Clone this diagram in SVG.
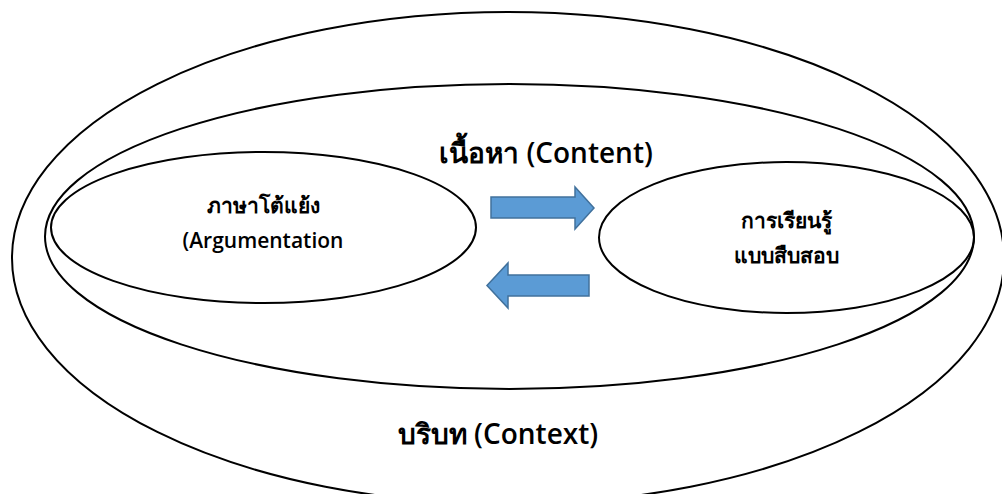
<svg xmlns="http://www.w3.org/2000/svg" width="1002" height="494" viewBox="0 0 1002 494">
<style>
.ring{fill:none;stroke:#000;stroke-width:2}
.arrow{fill:#5B9BD5;stroke:#41719C;stroke-width:1.5}
text{font-family:"Open Sans","Noto Sans","DejaVu Sans",sans-serif;fill:#000;text-anchor:middle;font-weight:600}
.big{font-size:28px}
.small{font-size:21px}
</style>
<rect width="1002" height="494" fill="#fff"/>
<g id="context">
<ellipse class="ring" cx="508" cy="258" rx="496" ry="246"/>
<text class="big" x="498" y="444">บริบท (Context)</text>
</g>
<g id="content">
<ellipse class="ring" cx="509.5" cy="236.5" rx="464.5" ry="152.5"/>
<text class="big" x="546" y="163">เนื้อหา (Content)</text>
</g>
<g id="argumentation">
<ellipse class="ring" cx="263.5" cy="227.5" rx="212.5" ry="75.5"/>
<text class="small" x="263" y="213">ภาษาโต้แย้ง</text>
<text class="small" x="263" y="248">(Argumentation</text>
</g>
<g id="inquiry">
<ellipse class="ring" cx="786.5" cy="237.5" rx="187.5" ry="75.5"/>
<text class="small" x="786" y="228">การเรียนรู้</text>
<text class="small" x="786" y="263">แบบสืบสอบ</text>
</g>
<g id="connectors">
<polygon class="arrow" points="491,197 575,197 575,187 594,208 575,229 575,218 491,218"/>
<polygon class="arrow" points="589,275 508,275 508,263 487,285.5 508,308 508,296 589,296"/>
</g>
</svg>
